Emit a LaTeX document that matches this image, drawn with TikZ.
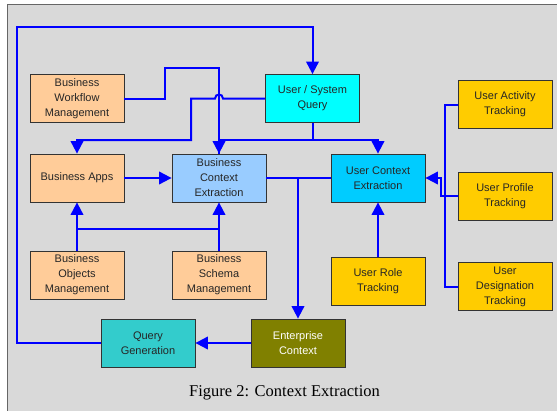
\documentclass[tikz,border=0pt]{standalone}
\usepackage{fontspec}
\setmainfont{Liberation Sans}
\newfontfamily\capfont{Liberation Serif}
\usetikzlibrary{arrows.meta,calc,positioning}
\definecolor{bizorange}{HTML}{FFCC99}
\definecolor{bizblue}{HTML}{99CCFF}
\definecolor{qcyan}{HTML}{00FFFF}
\definecolor{ucblue}{HTML}{00CCFF}
\definecolor{trackgold}{HTML}{FFCC00}
\definecolor{qgteal}{HTML}{33CCCC}
\definecolor{entolive}{HTML}{808000}
\definecolor{panelgray}{HTML}{D9D9D9}
\begin{document}
\begin{tikzpicture}
[x=1pt,y=-1pt,
box/.style={draw=black!80,line width=0.8pt,minimum width=94pt,
minimum height=48pt,align=center,text=black!85,
font=\fontsize{11}{15}\selectfont},
wire/.style={blue,line width=2pt},
arr/.style={wire,-{Triangle[length=12.5pt,width=12.5pt]}}]
\useasboundingbox (0,0) rectangle (557,410);
\draw[fill=panelgray,draw=black!60,line width=0.8pt] (7,4) rectangle (570,420);

\node (bwm) at (77,98.5) [box,fill=bizorange] {Business\\Workflow\\Management};
\node (bapps) at (77,178) [box,fill=bizorange] {Business Apps};
\node (bce) at (219,178) [box,fill=bizblue] {Business\\Context\\Extraction};
\node (usq) at (312.5,98.5) [box,fill=qcyan] {User / System\\Query};
\node (uce) at (378,178) [box,fill=ucblue] {User Context\\Extraction};
\node (uat) at (505,104.5) [box,fill=trackgold] {User Activity\\Tracking};
\node (upt) at (505,196) [box,fill=trackgold] {User Profile\\Tracking};
\node (udt) at (505,286.5) [box,fill=trackgold] {User\\Designation\\Tracking};
\node (urt) at (378,281) [box,fill=trackgold] {User Role\\Tracking};
\node (bom) at (77,275) [box,fill=bizorange] {Business\\Objects\\Management};
\node (bsm) at (219,275) [box,fill=bizorange] {Business\\Schema\\Management};
\node (qg) at (148,343) [box,fill=qgteal] {Query\\Generation};
\node (ec) at (298,343) [box,fill=entolive,text=white] {Enterprise\\Context};
\node (cap) at (284.5,393) {\capfont\fontsize{16.5}{18}\selectfont Figure 2: Context Extraction};

\coordinate (loop) at (17,27);
\coordinate (wfup) at (165,68);
\coordinate (qdown) at (191,140);
\coordinate (bj) at (77,229);

\draw[arr] (qg.west) -| (loop) -| (usq.north);
\draw[arr] (bwm.east) -| (wfup) -| (bce.north);
\draw[arr] (usq.west) -- (223,98.5) .. controls (223,93.2) and (215,93.2) .. (215,98.5)
  -| (qdown) -| (bapps.north);
\draw[arr] (usq.south) -- ++(0,17) -| (uce.north);
\draw[wire] (usq.south) ++(0,17) -| (bce.north);
\draw[arr] (bapps) -- (bce);
\draw[wire] (bce) -- (uce);
\draw[arr] (bce.east -| ec.north) -- (ec.north);
\draw[arr] (bom) -- (bapps);
\draw[arr] (bsm) -- (bce);
\draw[wire] (bj) -- (bj -| bsm.north);
\draw[arr] (urt) -- (uce);
\draw[wire] (uat.west) -- ++(-13,0) |- (udt.west);
\draw[arr] (upt.west) -- ++(-17,0) |- (uce.east);
\draw[arr] (ec) -- (qg);

\end{tikzpicture}
\end{document}
